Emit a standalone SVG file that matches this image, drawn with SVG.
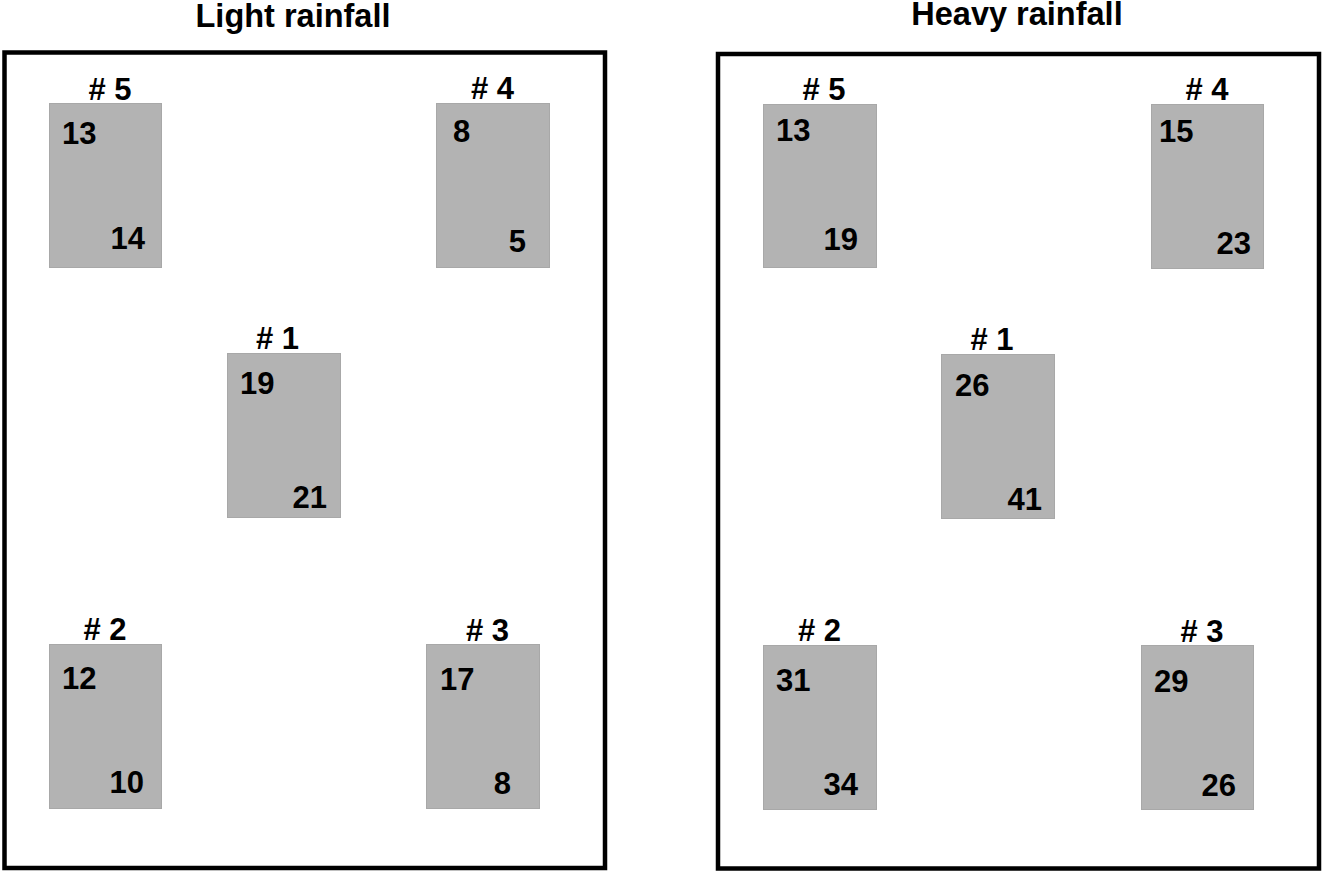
<svg xmlns="http://www.w3.org/2000/svg" width="1323" height="873" viewBox="0 0 1323 873">
<style>
.frame{fill:none;stroke:#000;stroke-width:4.5}
.plot{fill:#b3b3b3;stroke:#a8a8a8;stroke-width:1}
text{font-family:"Liberation Sans",Arial,sans-serif;font-weight:bold;fill:#000}
.title{font-size:32.5px;text-anchor:middle}
.lbl{font-size:31px;text-anchor:middle}
.n{font-size:31px}
.e{text-anchor:end}
</style>
<rect width="1323" height="873" fill="#fff"/>
<g id="light">
<text class="title" x="293" y="27">Light rainfall</text>
<rect class="frame" x="4.5" y="52.5" width="600.5" height="815.5"/>
</g>
<g id="heavy">
<text class="title" x="1017" y="25">Heavy rainfall</text>
<rect class="frame" x="718" y="54" width="601" height="814.5"/>
</g>
<g id="L5"><text class="lbl" x="110" y="100"># 5</text><rect class="plot" x="49.5" y="103.5" width="112" height="164"/><text class="n" x="62" y="144">13</text><text class="n e" x="145" y="249">14</text></g>
<g id="L4"><text class="lbl" x="492.5" y="99"># 4</text><rect class="plot" x="436.5" y="103.5" width="113" height="164"/><text class="n" x="453" y="142">8</text><text class="n e" x="526" y="252">5</text></g>
<g id="L1"><text class="lbl" x="277.5" y="349"># 1</text><rect class="plot" x="227.5" y="353.5" width="113" height="164"/><text class="n" x="240" y="394">19</text><text class="n e" x="327" y="508">21</text></g>
<g id="L2"><text class="lbl" x="105" y="640"># 2</text><rect class="plot" x="49.5" y="644.5" width="112" height="164"/><text class="n" x="62" y="689">12</text><text class="n e" x="144" y="793">10</text></g>
<g id="L3"><text class="lbl" x="487.5" y="641"># 3</text><rect class="plot" x="426.5" y="644.5" width="113" height="164"/><text class="n" x="440" y="690">17</text><text class="n e" x="511" y="794">8</text></g>
<g id="H5"><text class="lbl" x="824" y="100"># 5</text><rect class="plot" x="763.5" y="104.5" width="113" height="163"/><text class="n" x="776" y="141">13</text><text class="n e" x="858" y="250">19</text></g>
<g id="H4"><text class="lbl" x="1207" y="100"># 4</text><rect class="plot" x="1151.5" y="104.5" width="112" height="164"/><text class="n" x="1159" y="142">15</text><text class="n e" x="1251" y="254">23</text></g>
<g id="H1"><text class="lbl" x="992" y="350"># 1</text><rect class="plot" x="941.5" y="354.5" width="113" height="164"/><text class="n" x="955" y="396">26</text><text class="n e" x="1042" y="510">41</text></g>
<g id="H2"><text class="lbl" x="819.5" y="641"># 2</text><rect class="plot" x="763.5" y="645.5" width="113" height="164"/><text class="n" x="776" y="691">31</text><text class="n e" x="858" y="795">34</text></g>
<g id="H3"><text class="lbl" x="1202" y="642"># 3</text><rect class="plot" x="1141.5" y="645.5" width="112" height="164"/><text class="n" x="1154" y="692">29</text><text class="n e" x="1236" y="796">26</text></g>
<g id="connectors"/>
</svg>
